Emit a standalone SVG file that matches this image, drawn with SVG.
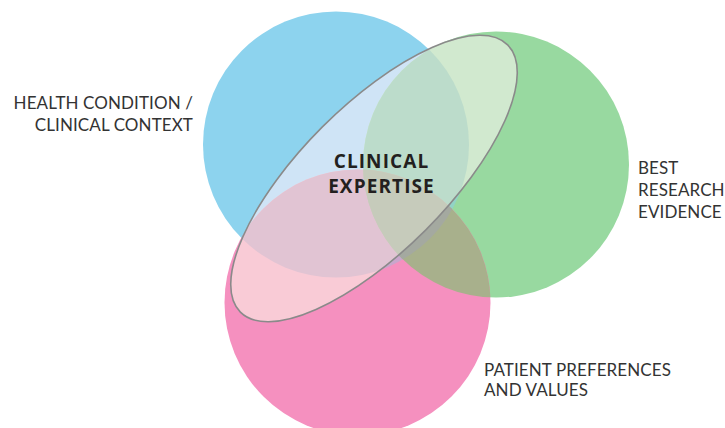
<svg xmlns="http://www.w3.org/2000/svg" width="725" height="428" viewBox="0 0 725 428">
<style>
.lbl{font-family:Lato,"Open Sans","Liberation Sans",sans-serif;font-size:17px;letter-spacing:0.1px;fill:#333;}
.ctr{font-family:"Open Sans","Noto Sans","Liberation Sans",sans-serif;font-size:19px;letter-spacing:1.1px;font-weight:bold;fill:#231f20;text-anchor:middle;}
</style>
<defs>
<clipPath id="cB"><circle cx="336" cy="144.5" r="133"/></clipPath>
<clipPath id="cG"><circle cx="496" cy="164.5" r="133"/></clipPath>
<clipPath id="cP"><circle cx="357.5" cy="302.5" r="133"/></clipPath>
<clipPath id="cE"><ellipse cx="374" cy="178.5" rx="189" ry="73" transform="rotate(-45 374 178.5)"/></clipPath>
</defs>
<rect width="725" height="428" fill="#fff"/>
<g id="health-condition">
<circle cx="336" cy="144.5" r="133" fill="#8dd3ee"/>
</g>
<g id="research-evidence">
<circle cx="496" cy="164.5" r="133" fill="#98d9a0"/>
</g>
<g id="patient-preferences">
<circle cx="357.5" cy="302.5" r="133" fill="#f590bf"/>
</g>
<g id="overlaps">
<circle cx="496" cy="164.5" r="133" fill="#92d3c6" clip-path="url(#cB)"/>
<circle cx="357.5" cy="302.5" r="133" fill="#c9a6cc" clip-path="url(#cB)"/>
<circle cx="357.5" cy="302.5" r="133" fill="#a8b08c" clip-path="url(#cG)"/>
<g clip-path="url(#cB)"><circle cx="357.5" cy="302.5" r="133" fill="#a4a9a0" clip-path="url(#cG)"/></g>
</g>
<g id="clinical-expertise">
<g clip-path="url(#cE)">
<rect x="200" y="0" width="340" height="340" fill="#eef0f4"/>
<circle cx="336" cy="144.5" r="133" fill="#cfe4f6"/>
<circle cx="496" cy="164.5" r="133" fill="#d1e9cf"/>
<circle cx="357.5" cy="302.5" r="133" fill="#f9cbd6"/>
<circle cx="496" cy="164.5" r="133" fill="#bcdccb" clip-path="url(#cB)"/>
<circle cx="357.5" cy="302.5" r="133" fill="#e1c4d3" clip-path="url(#cB)"/>
<circle cx="357.5" cy="302.5" r="133" fill="#ccceba" clip-path="url(#cG)"/>
<g clip-path="url(#cB)"><circle cx="357.5" cy="302.5" r="133" fill="#c6cbbb" clip-path="url(#cG)"/></g>
</g>
<ellipse cx="374" cy="178.5" rx="189" ry="73" transform="rotate(-45 374 178.5)" fill="none" stroke="#8a8a8a" stroke-width="1.6"/>
<text class="ctr" x="381.5" y="168">CLINICAL</text>
<text class="ctr" x="381.5" y="193">EXPERTISE</text>
</g>
<g id="connectors"/>
<g id="labels">
<text class="lbl" x="193" y="109" text-anchor="end">HEALTH CONDITION /</text>
<text class="lbl" x="193" y="131" text-anchor="end">CLINICAL CONTEXT</text>
<text class="lbl" x="638" y="174">BEST</text>
<text class="lbl" x="638" y="196">RESEARCH</text>
<text class="lbl" x="638" y="218">EVIDENCE</text>
<text class="lbl" x="484" y="375.5">PATIENT PREFERENCES</text>
<text class="lbl" x="484" y="396">AND VALUES</text>
</g>
</svg>
